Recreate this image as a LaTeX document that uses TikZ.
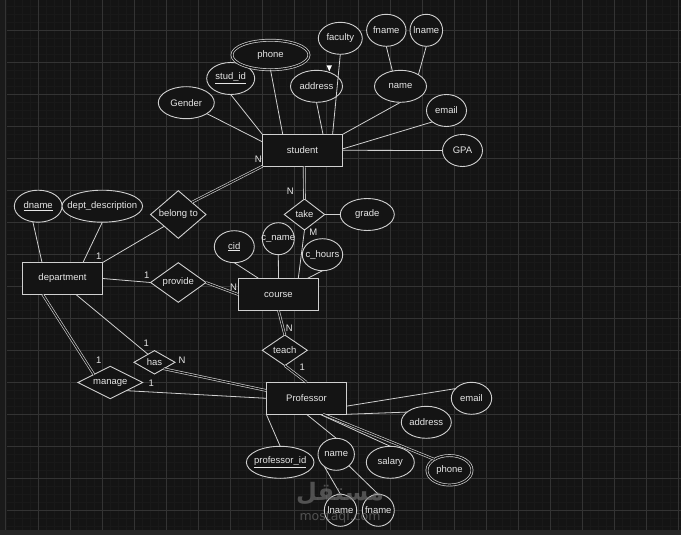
\documentclass[tikz,border=0pt]{standalone}
\usepackage{fontspec}
\setmainfont{Liberation Sans}
\newfontfamily\arabicfont[Script=Arabic]{DejaVu Sans}
\newfontfamily\wmfont{DejaVu Sans}
\TeXXeTstate=1
\usetikzlibrary{shapes.geometric,calc}
\definecolor{bg}{HTML}{141414}
\definecolor{strip}{HTML}{1A1A1A}
\definecolor{bottombar}{HTML}{262626}
\definecolor{gridminor}{HTML}{191919}
\definecolor{gridmajor}{HTML}{333333}
\definecolor{ink}{HTML}{D0D0D0}
\definecolor{txt}{HTML}{E6E6E6}
\definecolor{wmgray}{HTML}{7A7A7A}
\newcommand{\zb}[1]{\makebox[0pt]{#1}}
\begin{document}
\begin{tikzpicture}[x=1pt,y=-1pt,
  every node/.style={font=\fontsize{9.5}{11}\selectfont, text=txt, inner sep=0pt, outer sep=0pt},
  ent/.style={draw=ink, fill=bg, line width=0.9pt, rectangle, minimum width=80.4pt, minimum height=32pt},
  attr/.style={draw=ink, fill=bg, line width=0.9pt, ellipse, minimum height=32pt},
  mattr/.style={attr, line width=0.7pt, double=bg, double distance=1.4pt},
  rel/.style={draw=ink, fill=bg, line width=0.9pt, diamond},
  link/.style={draw=ink, line width=0.8pt},
  dlink/.style={draw=ink, line width=0.65pt, double=bg, double distance=1.3pt},
  card/.style={text=txt}
]
\useasboundingbox (0,0) rectangle (681,535);
% background and grid
\fill[bg] (0,0) rectangle (681,535);
\fill[strip] (0,0) rectangle (7,535);
\draw[gridmajor, line width=1pt] (5,0) -- (5,530);
\foreach \i in {0,...,84} { \draw[gridminor, line width=0.6pt] ({6.3+8*\i},0) -- ({6.3+8*\i},530); }
\foreach \i in {0,...,65} { \draw[gridminor, line width=0.6pt] (7,{6.3+8*\i}) -- (681,{6.3+8*\i}); }
\foreach \i in {1,...,21} { \draw[gridmajor, line width=0.6pt] ({6.3+32*\i},0) -- ({6.3+32*\i},530); }
\foreach \i in {0,...,15} { \draw[gridmajor, line width=0.6pt] (7,{30.3+32*\i}) -- (681,{30.3+32*\i}); }
\fill[bottombar] (0,530) rectangle (681,535);

% student and attributes
\node[ent] (student) at (302.5,150.3) {\zb{student}};
\node[attr, minimum width=56pt] (gender) at (186.3,102.7) {\zb{Gender}};
\node[attr, minimum width=48pt] (studid) at (230.7,78.5) {\zb{\underline{stud\_id}}};
\node[mattr, minimum width=77pt, minimum height=29.5pt] (sphone) at (270.5,55) {\zb{phone}};
\node[attr, minimum width=52pt] (saddr) at (316.5,86.3) {\zb{address}};
\node[attr, minimum width=44pt] (faculty) at (340.3,38.3) {\zb{faculty}};
\node[attr, minimum width=52pt] (sname) at (400.5,86.3) {\zb{name}};
\node[attr, minimum width=39.4pt] (sfname) at (386.3,30.3) {\zb{fname}};
\node[attr, minimum width=32.6pt] (slname) at (426.3,30.3) {\zb{lname}};
\node[attr, minimum width=40pt] (semail) at (446.5,110.5) {\zb{email}};
\node[attr, minimum width=40pt] (gpa) at (462.5,150.5) {\zb{GPA}};

% department
\node[ent] (dept) at (62.5,278.5) {\zb{department}};
\node[attr, minimum width=47.8pt] (dname) at (38.2,206.2) {\zb{\underline{dname}}};
\node[attr, minimum width=80.6pt] (ddesc) at (102.3,206.2) {\zb{dept\_description}};

% relationships
\node[rel, minimum width=55.4pt, minimum height=47.6pt] (belong) at (178.3,214.5) {\zb{belong to}};
\node[rel, minimum width=55.4pt, minimum height=39.6pt] (provide) at (178.3,282.5) {\zb{provide}};
\node[rel, minimum width=40.4pt, minimum height=31pt] (take) at (304.5,214.5) {\zb{take}};
\node[attr, minimum width=54pt] (grade) at (367.3,214.5) {\zb{grade}};

% course
\node[ent] (course) at (278.5,294.5) {\zb{course}};
\node[attr, minimum width=40pt] (cid) at (234.3,246.7) {\zb{\underline{cid}}};
\node[attr, minimum width=32pt] (cname) at (278.3,238.7) {\zb{c\_name}};
\node[attr, minimum width=40.4pt] (chours) at (322.5,254.7) {\zb{c\_hours}};

\node[rel, minimum width=41pt, minimum height=23.4pt] (has) at (154.5,362.3) {\zb{has}};
\node[rel, minimum width=64.6pt, minimum height=32.4pt] (manage) at (110.3,382.5) {\zb{manage}};
\node[rel, minimum width=45pt, minimum height=30.6pt] (teach) at (284.8,350.3) {\zb{teach}};

% professor
\node[ent] (prof) at (306.5,398.3) {\zb{Professor}};
\node[attr, minimum width=40.4pt] (pemail) at (471.5,398.3) {\zb{email}};
\node[attr, minimum width=50pt] (paddr) at (426.3,422.3) {\zb{address}};
\node[attr, minimum width=67.6pt] (pid) at (280.2,462.3) {\zb{\underline{professor\_id}}};
\node[attr, minimum width=36.4pt] (pname) at (336.2,454.3) {\zb{name}};
\node[attr, minimum width=48pt] (salary) at (390.3,462.3) {\zb{salary}};
\node[mattr, minimum width=45pt, minimum height=29.5pt] (pphone) at (449.5,470.3) {\zb{phone}};
\node[attr, minimum width=32.4pt] (plname) at (340.5,510.3) {\zb{lname}};
\node[attr, minimum width=32pt] (pfname) at (378.3,510.3) {\zb{fname}};

% connectors
\draw[link] (gender.-28) -- (student.168);
\draw[link] (studid.south) -- (student.north west);
\draw[link] (sphone.south) -- (student.141);
\draw[link] (saddr.south) -- (student.38);
\draw[link] (faculty.south) -- (student.28);
\draw[link] (sname.south) -- (student.north east);
\draw[link] (semail.219) -- (student.2);
\draw[link] (gpa.west) -- (student.east);
\draw[link] (sfname.south) -- (sname.118);
\draw[link] (slname.south) -- (sname.33);

\draw[link] (dname.-109) -- (dept.142);
\draw[link] (ddesc.south) -- (dept.38);
\draw[link] (dept.north east) -- (belong.-140);
\draw[dlink] (belong.42) -- (student.south west);
\draw[link] (dept.east) -- (provide.west);
\draw[dlink] (provide.east) -- (course.west);
\draw[dlink] (student.-84) -- (take.north);
\draw[link] (take.east) -- (grade.west);
\draw[link] (take.south) -- (course.39);
\draw[link] (cid.south) -- (course.141);
\draw[link] (cname.south) -- (course.north);
\draw[link] (chours.south) -- (course.29);
\draw[dlink] (course.south) -- (teach.north);
\draw[dlink] (teach.south) -- (prof.north);
\draw[link] (dept.-50) -- (has.129);
\draw[dlink] (has.-35) -- (prof.169);
\draw[dlink] (dept.-141) -- (manage.154);
\draw[link] (manage.-27) -- (prof.west);
\draw[link] (prof.-11) -- (pemail.149);
\draw[link] (prof.south east) -- (paddr.152);
\draw[link] (prof.south west) -- (pid.north);
\draw[link] (prof.south) -- (pname.north);
\draw[link] (prof.-50) -- (salary.north);
\draw[dlink] (prof.-44) -- (pphone.144);
\draw[link] (pname.-135) -- (plname.north);
\draw[link] (pname.-42) -- (pfname.north);

% cardinalities
\node[card] (c1) at (258.4,159.5) {N};
\node[card] (c2) at (290.3,191.7) {N};
\node[card] (c3) at (313.3,232.3) {M};
\node[card] (c4) at (233.5,287.3) {N};
\node[card] (c5) at (146.7,275.7) {1};
\node[card] (c6) at (98.7,256) {1};
\node[card] (c7) at (146.3,343.3) {1};
\node[card] (c8) at (182,360) {N};
\node[card] (c9) at (98.7,360) {1};
\node[card] (c10) at (151.3,383.3) {1};
\node[card] (c11) at (289.3,328.3) {N};
\node[card] (c12) at (302.3,367.7) {1};

% cursor
\fill[white] (326.5,65.3) -- (332,65.3) -- (329.3,71.3) -- cycle;

% watermark
\node[text=wmgray, opacity=0.6, font=\arabicfont\bfseries\fontsize{24}{24}\selectfont] (wm1) at (340,494) {\beginR مستقل\endR};
\node[text=wmgray, opacity=0.6, font=\wmfont\fontsize{12.5}{13}\selectfont] (wm2) at (340,517) {mostaql.com};
\end{tikzpicture}
\end{document}
